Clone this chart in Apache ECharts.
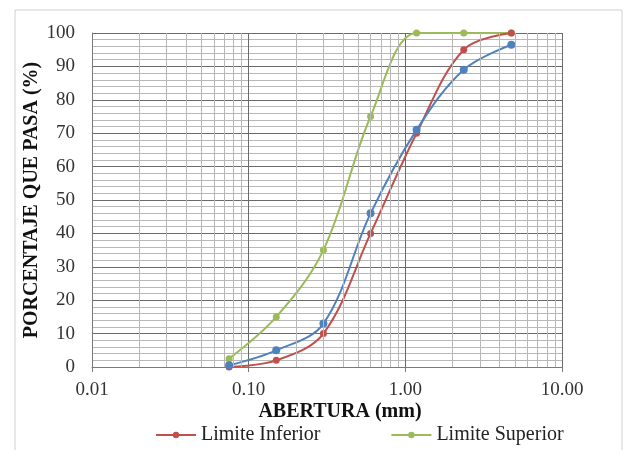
<!DOCTYPE html>
<html><head><meta charset="utf-8">
<script src="https://cdn.jsdelivr.net/npm/echarts@6/dist/echarts.min.js"></script>
<style>html,body{margin:0;padding:0;background:#fff}#c{width:631px;height:450px}</style>
</head><body><div id="c"></div>
<script>
var sieves = [0.075, 0.15, 0.3, 0.6, 1.18, 2.36, 4.75];
var limiteInferior = [0, 2, 10, 40, 70, 95, 100];
var limiteSuperior = [2.5, 15, 35, 75, 100, 100, 100];
var muestra = [0.5, 5, 13, 46, 71, 89, 96.5];
var minorX = [0.02,0.03,0.04,0.05,0.06,0.07,0.08,0.09,0.2,0.3,0.4,0.5,0.6,0.7,0.8,0.9,2,3,4,5,6,7,8,9];

function pairs(ys){ return sieves.map(function(x,i){ return [x, ys[i]]; }); }
var font = '"Liberation Serif","DejaVu Serif",serif';
var chart = echarts.init(document.getElementById('c'), null, {renderer:'canvas'});
chart.setOption({
  animation:false,
  backgroundColor:'#fff',
  grid:{left:92,right:69,top:33,bottom:83},
  graphic:[{type:'rect',shape:{x:15,y:10,width:607,height:460},style:{fill:'none',stroke:'#d0d0d0',lineWidth:1},silent:true,z:-1}],
  legend:{
    data:['Limite Inferior','Limite Superior'],
    left:150, top:420, itemWidth:40, itemHeight:8, itemGap:70,
    textStyle:{fontFamily:font,fontSize:20,color:'#222'}
  },
  xAxis:{
    type:'log', logBase:10, min:0.01, max:10,
    name:'ABERTURA (mm)', nameLocation:'middle', nameGap:35, nameMoveOverlap:false,
    nameTextStyle:{fontFamily:font,fontSize:20,fontWeight:'bold',color:'#111',padding:[0,0,0,26]},
    axisLine:{show:true,lineStyle:{color:'#7a7a7a',width:1}},
    axisTick:{show:true,length:5,lineStyle:{color:'#7a7a7a'}},
    axisLabel:{fontFamily:font,fontSize:19,color:'#333',margin:14,formatter:function(v){return Number(v).toFixed(2);}},
    splitLine:{show:true,lineStyle:{color:'#6a6a6a',width:1}}
  },
  yAxis:{
    type:'value', min:0, max:100, interval:10,
    name:'PORCENTAJE QUE PASA (%)', nameLocation:'middle', nameGap:50, nameMoveOverlap:false,
    nameTextStyle:{fontFamily:font,fontSize:20,fontWeight:'bold',color:'#111'},
    axisLine:{show:true,lineStyle:{color:'#7a7a7a'}},
    axisTick:{show:false},
    axisLabel:{fontFamily:font,fontSize:19,color:'#333',margin:17},
    splitLine:{show:true,lineStyle:{color:'#6a6a6a',width:1}},
    minorTick:{show:false,splitNumber:5},
    minorSplitLine:{show:true,lineStyle:{color:'#b8b8b8',width:1}}
  },
  series:[
    {type:'line',name:'gridMinor',data:[],silent:true,z:1,
     markLine:{silent:true,symbol:'none',label:{show:false},animation:false,
       lineStyle:{color:'#b8b8b8',width:1,type:'solid'},
       data:minorX.map(function(v){return {xAxis:v};})}},
    {type:'line',name:'Limite Inferior',data:pairs(limiteInferior),smooth:0.35,
     symbol:'circle',symbolSize:7,itemStyle:{color:'#C0504D'},lineStyle:{color:'#C0504D',width:2},z:3},
    {type:'line',name:'Limite Superior',data:pairs(limiteSuperior),smooth:0.35,
     symbol:'circle',symbolSize:7,itemStyle:{color:'#9BBB59'},lineStyle:{color:'#9BBB59',width:2},z:2},
    {type:'line',name:'Muestra',data:pairs(muestra),smooth:0.35,
     symbol:'circle',symbolSize:8,itemStyle:{color:'#4F81BD'},lineStyle:{color:'#4F81BD',width:2},z:4}
  ]
});
</script></body></html>
